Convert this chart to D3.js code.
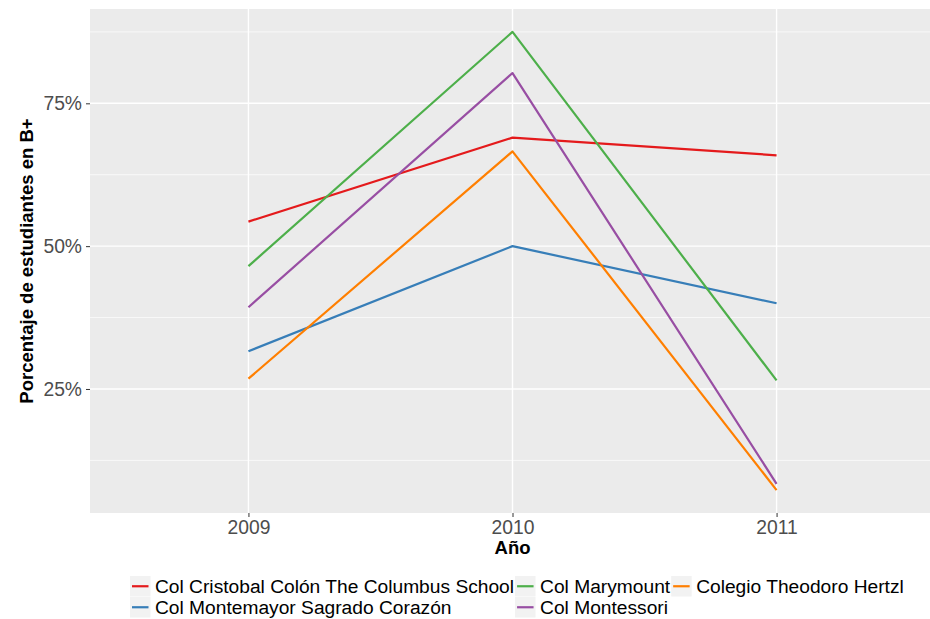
<!DOCTYPE html>
<html>
<head>
<meta charset="utf-8">
<script src="https://cdn.jsdelivr.net/npm/d3@7"></script>
<style>
  body { margin: 0; background: #fff; }
  text { font-family: "Liberation Sans", Arial, sans-serif; }
</style>
</head>
<body>
<div id="chart"></div>
<script>
const years = ["2009", "2010", "2011"];
const schools = [
    "Col Cristobal Colón The Columbus School",
    "Col Montemayor Sagrado Corazón",
    "Col Marymount",
    "Col Montessori",
    "Colegio Theodoro Hertzl"
];
const colors = ["#E41A1C", "#377EB8", "#4DAF4A", "#984EA3", "#FF7F00"];

// percent of students with B+ per year
const cristobal = [54.3, 69.0, 65.9];
const montemayor = [31.6, 50.0, 40.0];
const marymount = [46.5, 87.5, 26.5];
const montessori = [39.3, 80.3, 8.4];
const hertzl = [26.8, 66.6, 7.3];

const yTicks = [25, 50, 75];
const yMinor = [12.5, 37.5, 62.5, 87.5];

const series = [cristobal, montemayor, marymount, montessori, hertzl]
    .map((vals, i) => ({name: schools[i], color: colors[i], values: vals.map((v, j) => ({year: years[j], value: v}))}));

const W = 930, H = 619;
const panel = {left: 90, right: 935, top: 9, bottom: 513};

const svg = d3.select("#chart")
    .append("svg")
    .attr("width", W)
    .attr("height", H);

const x = d3.scalePoint()
    .domain(years)
    .range([panel.left, panel.right])
    .padding(0.6);

const allVals = series.flatMap(s => s.values.map(d => d.value));
const lo = d3.min(allVals), hi = d3.max(allVals), pad = (hi - lo) * 0.05;
const y = d3.scaleLinear()
    .domain([lo - pad, hi + pad])
    .range([panel.bottom, panel.top]);

// panel background
svg.append("rect")
    .attr("x", panel.left)
    .attr("y", panel.top)
    .attr("width", panel.right - panel.left)
    .attr("height", panel.bottom - panel.top)
    .style("fill", "#EBEBEB");

// minor grid
svg.append("g").selectAll("line")
    .data(yMinor)
    .enter()
    .append("line")
    .attr("x1", panel.left).attr("x2", panel.right)
    .attr("y1", d => y(d)).attr("y2", d => y(d))
    .style("stroke", "#fff").style("stroke-width", 0.7);

// major grid
svg.append("g").selectAll("line")
    .data(yTicks)
    .enter()
    .append("line")
    .attr("x1", panel.left).attr("x2", panel.right)
    .attr("y1", d => y(d)).attr("y2", d => y(d))
    .style("stroke", "#fff").style("stroke-width", 1.4);

svg.append("g").selectAll("line")
    .data(years)
    .enter()
    .append("line")
    .attr("x1", d => x(d)).attr("x2", d => x(d))
    .attr("y1", panel.top).attr("y2", panel.bottom)
    .style("stroke", "#fff").style("stroke-width", 1.4);

// lines
const line = d3.line()
    .x(d => x(d.year))
    .y(d => y(d.value));

svg.append("g").selectAll("path")
    .data(series)
    .enter()
    .append("path")
    .attr("d", d => line(d.values))
    .style("fill", "none")
    .style("stroke", d => d.color)
    .style("stroke-width", 2.2)
    .style("stroke-linejoin", "round");

// axes
const xAxis = svg.append("g")
    .attr("transform", `translate(0,${panel.bottom})`)
    .call(d3.axisBottom(x).tickSize(4).tickPadding(3));
const yAxis = svg.append("g")
    .attr("transform", `translate(${panel.left},0)`)
    .call(d3.axisLeft(y).tickValues(yTicks).tickFormat(d => d + "%").tickSize(4).tickPadding(4));

[xAxis, yAxis].forEach(g => {
    g.select(".domain").remove();
    g.selectAll(".tick line").style("stroke", "#333").style("stroke-width", 1);
    g.selectAll(".tick text")
        .style("font-size", "19.3px")
        .style("fill", "#4D4D4D")
        .style("font-family", "'Liberation Sans', Arial, sans-serif");
});

svg.append("text")
    .attr("x", (panel.left + panel.right) / 2)
    .attr("y", 554)
    .attr("text-anchor", "middle")
    .style("font-size", "18.5px")
    .style("font-weight", "bold")
    .text("Año");

svg.append("text")
    .attr("transform", `translate(33,${(panel.top + panel.bottom) / 2}) rotate(-90)`)
    .attr("text-anchor", "middle")
    .style("font-size", "18.5px")
    .style("font-weight", "bold")
    .text("Porcentaje de estudiantes en B+");

// legend, filled column-wise in two rows
const keySize = 20.5, rowY = [576, 597], legendLeft = 130;
const legend = svg.append("g");
const cols = d3.range(Math.ceil(series.length / 2)).map(c => series.slice(c * 2, c * 2 + 2));

let cx = legendLeft;
cols.forEach(col => {
    let maxW = 0;
    col.forEach((s, r) => {
        const item = legend.append("g").attr("transform", `translate(${cx},${rowY[r]})`);
        item.append("rect")
            .attr("width", keySize).attr("height", keySize)
            .style("fill", "#F2F2F2");
        item.append("line")
            .attr("x1", 2).attr("x2", keySize - 2)
            .attr("y1", keySize / 2).attr("y2", keySize / 2)
            .style("stroke", s.color).style("stroke-width", 2.2);
        const t = item.append("text")
            .attr("x", keySize + 4.5)
            .attr("y", keySize / 2)
            .attr("dy", "0.36em")
            .style("font-size", "19.2px")
            .style("fill", "#000")
            .text(s.name);
        maxW = Math.max(maxW, t.node().getComputedTextLength());
    });
    cx += keySize + 4.5 + maxW + 1;
});
</script>
</body>
</html>
